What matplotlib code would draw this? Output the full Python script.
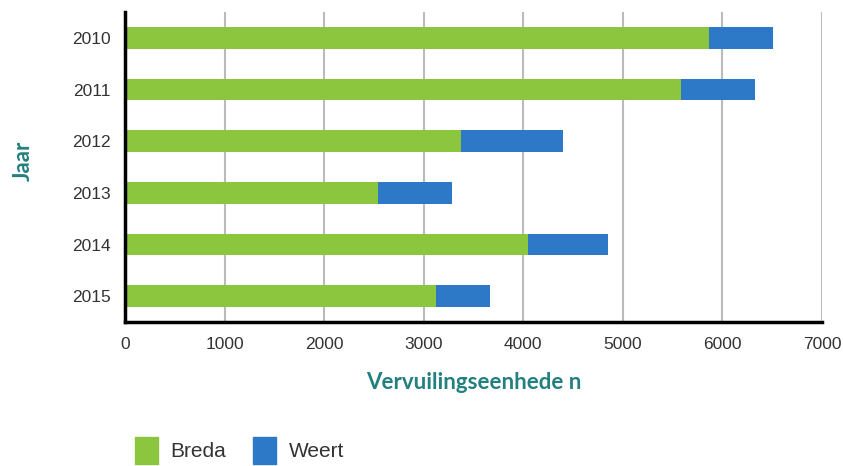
import numpy as np
from matplotlib import pyplot as plt
from matplotlib.patches import Patch

# ################ Data. ################ #
years = ["2010", "2011", "2012", "2013", "2014", "2015"]
breda = [5870, 5585, 3370, 2545, 4050, 3120]
weert = [640, 745, 1030, 735, 800, 550]

GREEN = "#8cc63f"
BLUE = "#2e78c8"
TEAL = "#23807f"

# ################ Plot. ################ #
fig = plt.figure(figsize=(8.43, 4.66), dpi=100)
ax = fig.add_axes([125 / 843, 1 - 322 / 466, (822 - 125) / 843, (322 - 12) / 466])

y = np.arange(len(years))
ax.barh(y, breda, height=0.42, color=GREEN, zorder=3)
ax.barh(y, weert, left=breda, height=0.42, color=BLUE, zorder=3)

ax.set_xlim(0, 7000)
ax.set_ylim(len(years) - 0.5, -0.5)
ax.set_xticks(range(0, 7001, 1000))
ax.set_yticks(y)
ax.set_yticklabels(years)
ax.tick_params(length=0, labelsize=12.5, labelcolor="#333333")
ax.tick_params(axis="x", pad=11)
ax.tick_params(axis="y", pad=10)
for lab in ax.get_xticklabels() + ax.get_yticklabels():
    lab.set_family("Liberation Sans")

ax.grid(axis="x", color="#bbbbbb", linewidth=1.5, zorder=0)
for s in ["top", "right"]:
    ax.spines[s].set_visible(False)
for s in ["left", "bottom"]:
    ax.spines[s].set_linewidth(2.5)
    ax.spines[s].set_color("black")
    ax.spines[s].set_zorder(4)

ax.set_xlabel("Vervuilingseenhede n", fontsize=16, fontweight="bold", color=TEAL,
              family="Lato", labelpad=14)
ax.set_ylabel("Jaar", fontsize=16, fontweight="bold", color=TEAL, family="Lato")
ax.yaxis.set_label_coords(-91 / 697, 0.52)

handles = [Patch(color=GREEN, label="Breda"), Patch(color=BLUE, label="Weert")]
fig.legend(handles=handles, loc="lower left", bbox_to_anchor=(116 / 843, -0.035), ncol=2,
           frameon=False, prop={"family": "Liberation Sans", "size": 15},
           handlelength=1.1, handleheight=1.6, handletextpad=0.6, columnspacing=1.3,
           labelcolor="#333333")

fig.savefig("out.png", dpi=100)
